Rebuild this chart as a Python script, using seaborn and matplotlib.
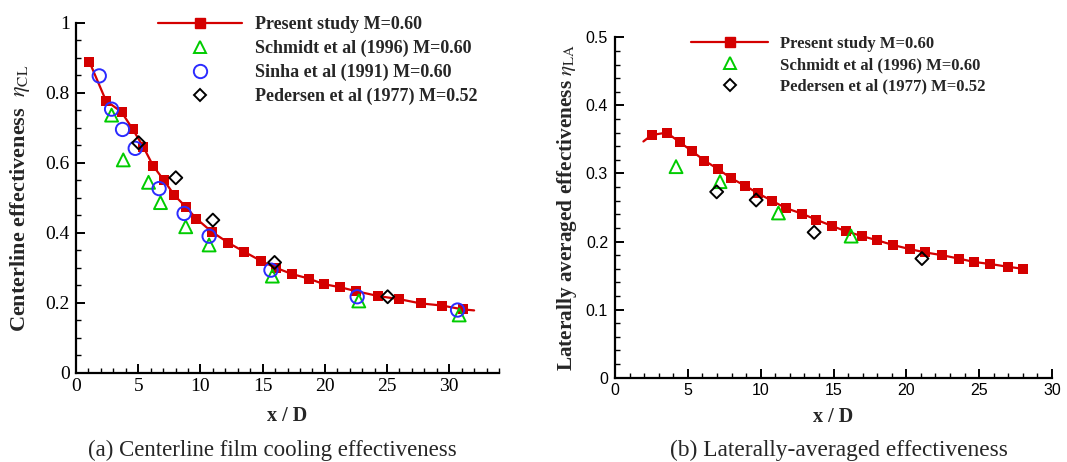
import numpy as np
import pandas as pd
import matplotlib
matplotlib.use("Agg")
import matplotlib.pyplot as plt
from matplotlib.lines import Line2D
from matplotlib.ticker import MultipleLocator, FixedLocator, FixedFormatter
import seaborn as sns

# ---------------- data: panel (a) centerline ----------------
a_present_x = [1.07, 2.41, 3.66, 4.55, 5.40, 6.20, 7.06, 7.91, 8.82, 9.68, 10.9, 12.25,
               13.5, 14.84, 16.04, 17.35, 18.7, 19.92, 21.26, 22.5, 24.3, 26.0, 27.7, 29.4, 31.07]
a_present_y = [0.889, 0.777, 0.745, 0.696, 0.646, 0.591, 0.550, 0.507, 0.474, 0.440, 0.403, 0.371,
               0.346, 0.320, 0.300, 0.282, 0.269, 0.253, 0.244, 0.233, 0.219, 0.210, 0.198, 0.192, 0.181]
a_curve_end_x = [32.0]
a_curve_end_y = [0.178]
a_schmidt_x = [2.86, 3.80, 5.83, 6.79, 8.82, 10.7, 15.78, 22.73, 30.8]
a_schmidt_y = [0.736, 0.608, 0.544, 0.486, 0.417, 0.365, 0.276, 0.205, 0.165]
a_sinha_x = [1.87, 2.86, 3.74, 4.76, 6.68, 8.69, 10.7, 15.67, 22.6, 30.67]
a_sinha_y = [0.848, 0.753, 0.695, 0.641, 0.526, 0.455, 0.390, 0.293, 0.217, 0.179]
a_pedersen_x = [5.03, 8.02, 11.0, 15.96, 25.05]
a_pedersen_y = [0.657, 0.557, 0.436, 0.315, 0.217]

# ---------------- data: panel (b) laterally averaged ----------------
b_present_x = [2.52, 3.55, 4.44, 5.27, 6.14, 7.10, 7.97, 8.93, 9.80, 10.76, 11.75, 12.82, 13.83,
               14.88, 15.87, 16.95, 17.98, 19.07, 20.22, 21.30, 22.44, 23.59, 24.66, 25.76, 26.95, 28.0]
b_present_y = [0.3565, 0.360, 0.346, 0.333, 0.319, 0.306, 0.293, 0.282, 0.271, 0.260, 0.249, 0.241,
               0.232, 0.223, 0.215, 0.208, 0.202, 0.195, 0.189, 0.184, 0.180, 0.175, 0.170, 0.167,
               0.163, 0.160]
b_curve_start_x = [1.95]
b_curve_start_y = [0.347]
b_schmidt_x = [4.19, 7.21, 11.22, 16.21]
b_schmidt_y = [0.310, 0.288, 0.242, 0.208]
b_pedersen_x = [6.98, 9.69, 13.67, 21.07]
b_pedersen_y = [0.273, 0.261, 0.2135, 0.175]

a_yticks = [0, 0.2, 0.4, 0.6, 0.8, 1.0]
a_ytick_labels = ["0", "0.2", "0.4", "0.6", "0.8", "1"]
b_yticks = [0, 0.1, 0.2, 0.3, 0.4, 0.5]
b_ytick_labels = ["0", "0.1", "0.2", "0.3", "0.4", "0.5"]
xticks_a = [0, 5, 10, 15, 20, 25, 30]
xticks_b = [0, 5, 10, 15, 20, 25, 30]

lab_present = "Present study M=0.60"
lab_schmidt = "Schmidt et al (1996) M=0.60"
lab_sinha = "Sinha et al (1991) M=0.60"
lab_pedersen = "Pedersen et al (1977) M=0.52"

# ---------------- style ----------------
sns.set_style("white")
plt.rcParams["font.family"] = ["Liberation Serif", "DejaVu Serif"]
plt.rcParams["mathtext.fontset"] = "stix"

RED = "#d40000"
GREEN = "#00cc00"
BLUE = "#2b2bff"
BLACK = "#000000"

W, H = 1067, 462
fig = plt.figure(figsize=(W / 100, H / 100), dpi=100)

def px_rect(x0, y0, x1, y1):
    return [x0 / W, 1 - y1 / H, (x1 - x0) / W, (y1 - y0) / H]

ax1 = fig.add_axes(px_rect(76, 22.7, 499, 372.7))
ax2 = fig.add_axes(px_rect(615, 37.3, 1052, 377.7))

MS_SQ, MS_TRI, MS_CIR, MS_DIA = 7.2, 9.3, 9.6, 6.6
SQ, TRI, CIR, DIA = MS_SQ ** 2, MS_TRI ** 2, MS_CIR ** 2, MS_DIA ** 2

# ---- panel a ----
curve_a = pd.DataFrame({"x": a_present_x + a_curve_end_x, "y": a_present_y + a_curve_end_y})
sns.lineplot(data=curve_a, x="x", y="y", ax=ax1, color=RED, lw=1.6, sort=False, estimator=None)
sns.scatterplot(x=a_present_x, y=a_present_y, ax=ax1, marker="s", s=SQ, color=RED,
                edgecolor=RED, linewidth=0, zorder=3)
sns.scatterplot(x=a_schmidt_x, y=a_schmidt_y, ax=ax1, marker="^", s=TRI, facecolor="none",
                edgecolor=GREEN, linewidth=1.4, zorder=4)
sns.scatterplot(x=a_sinha_x, y=a_sinha_y, ax=ax1, marker="o", s=CIR, facecolor="none",
                edgecolor=BLUE, linewidth=1.4, zorder=4)
sns.scatterplot(x=a_pedersen_x, y=a_pedersen_y, ax=ax1, marker="D", s=DIA, facecolor="none",
                edgecolor=BLACK, linewidth=1.4, zorder=5)

# ---- panel b ----
curve_b = pd.DataFrame({"x": b_curve_start_x + b_present_x, "y": b_curve_start_y + b_present_y})
sns.lineplot(data=curve_b, x="x", y="y", ax=ax2, color=RED, lw=1.6, sort=False, estimator=None)
sns.scatterplot(x=b_present_x, y=b_present_y, ax=ax2, marker="s", s=SQ, color=RED,
                edgecolor=RED, linewidth=0, zorder=3)
sns.scatterplot(x=b_schmidt_x, y=b_schmidt_y, ax=ax2, marker="^", s=TRI, facecolor="none",
                edgecolor=GREEN, linewidth=1.4, zorder=4)
sns.scatterplot(x=b_pedersen_x, y=b_pedersen_y, ax=ax2, marker="D", s=DIA, facecolor="none",
                edgecolor=BLACK, linewidth=1.4, zorder=5)

def style_axes(ax, xlim, ylim, xt, yt, ytl, yminor, tickfont, tsize, ypad, xpad):
    ax.set_xlim(*xlim)
    ax.set_ylim(*ylim)
    for s in ["top", "right"]:
        ax.spines[s].set_visible(False)
    for s in ["left", "bottom"]:
        ax.spines[s].set_linewidth(1.6)
        ax.spines[s].set_color("black")
    ax.xaxis.set_major_locator(FixedLocator(xt))
    ax.xaxis.set_major_formatter(FixedFormatter([str(v) for v in xt]))
    ax.xaxis.set_minor_locator(MultipleLocator(1))
    ax.yaxis.set_major_locator(FixedLocator(yt))
    ax.yaxis.set_major_formatter(FixedFormatter(ytl))
    ax.yaxis.set_minor_locator(MultipleLocator(yminor))
    ax.tick_params(which="major", direction="in", length=6.5, width=1.4, colors="black")
    ax.tick_params(which="minor", direction="in", length=3.5, width=1.0, colors="black")
    ax.tick_params(axis="y", which="major", pad=ypad)
    ax.tick_params(axis="x", which="major", pad=xpad)
    ax.tick_params(left=True, bottom=True, which="both")
    for lbl in ax.get_xticklabels() + ax.get_yticklabels():
        lbl.set_fontfamily(tickfont)
        lbl.set_fontsize(tsize)
    ax.grid(False)

style_axes(ax1, (0, 34), (0, 1), xticks_a, a_yticks, a_ytick_labels, 0.05,
           "Liberation Serif", 14, 4.5, 3.5)
style_axes(ax2, (0, 30), (0, 0.5), xticks_b, b_yticks, b_ytick_labels, 0.02,
           "Liberation Sans", 11.5, 5, 3.5)

ax1.set_xlabel("x / D", fontsize=14.5, fontweight="bold")
ax1.set_ylabel(r"Centerline effectiveness  $\eta_{\rm CL}$", fontsize=16, fontweight="bold")
ax1.xaxis.set_label_coords(0.5, -0.124)
ax1.xaxis.label.set_verticalalignment("center")
ax1.yaxis.set_label_coords(-0.132, 0.5)
ax1.yaxis.label.set_verticalalignment("center")

ax2.set_xlabel("x / D", fontsize=14.5, fontweight="bold")
ax2.set_ylabel(r"Laterally averaged effectiveness $\eta_{\rm LA}$", fontsize=15.3, fontweight="bold")
ax2.xaxis.set_label_coords(0.5, -0.115)
ax2.xaxis.label.set_verticalalignment("center")
ax2.yaxis.set_label_coords(-0.11, 0.5)
ax2.yaxis.label.set_verticalalignment("center")

# ---- legends ----
def handles(with_sinha, k):
    h = [Line2D([], [], color=RED, lw=1.6, marker="s", markersize=MS_SQ * k,
                markerfacecolor=RED, markeredgecolor=RED)]
    h.append(Line2D([], [], ls="none", marker="^", markersize=MS_TRI * k, markerfacecolor="none",
                    markeredgecolor=GREEN, markeredgewidth=1.4))
    if with_sinha:
        h.append(Line2D([], [], ls="none", marker="o", markersize=MS_CIR * k, markerfacecolor="none",
                        markeredgecolor=BLUE, markeredgewidth=1.4))
    h.append(Line2D([], [], ls="none", marker="D", markersize=MS_DIA * k, markerfacecolor="none",
                    markeredgecolor=BLACK, markeredgewidth=1.4))
    return h

leg1 = ax1.legend(handles(True, 1.0), [lab_present, lab_schmidt, lab_sinha, lab_pedersen],
                  loc="upper left", bbox_to_anchor=(158 / W, 1 - 16 / H),
                  bbox_transform=fig.transFigure, frameon=False, borderpad=0,
                  borderaxespad=0, handlelength=4.65, handletextpad=0.72, labelspacing=0.37,
                  prop={"family": "Liberation Serif", "weight": "bold", "size": 13})
leg2 = ax2.legend(handles(False, 0.95), [lab_present, lab_schmidt, lab_pedersen],
                  loc="upper left", bbox_to_anchor=(691 / W, 1 - 35.5 / H),
                  bbox_transform=fig.transFigure, frameon=False, borderpad=0,
                  borderaxespad=0, handlelength=4.62, handletextpad=0.72, labelspacing=0.33,
                  prop={"family": "Liberation Serif", "weight": "bold", "size": 12})

# ---- captions ----
fig.text(272 / W, 1 - 456 / H, "(a) Centerline film cooling effectiveness", ha="center",
         va="baseline", fontsize=16.5, family="Liberation Serif")
fig.text(839 / W, 1 - 456 / H, "(b) Laterally-averaged effectiveness", ha="center",
         va="baseline", fontsize=16.8, family="Liberation Serif")

fig.savefig("out.png", dpi=100)
